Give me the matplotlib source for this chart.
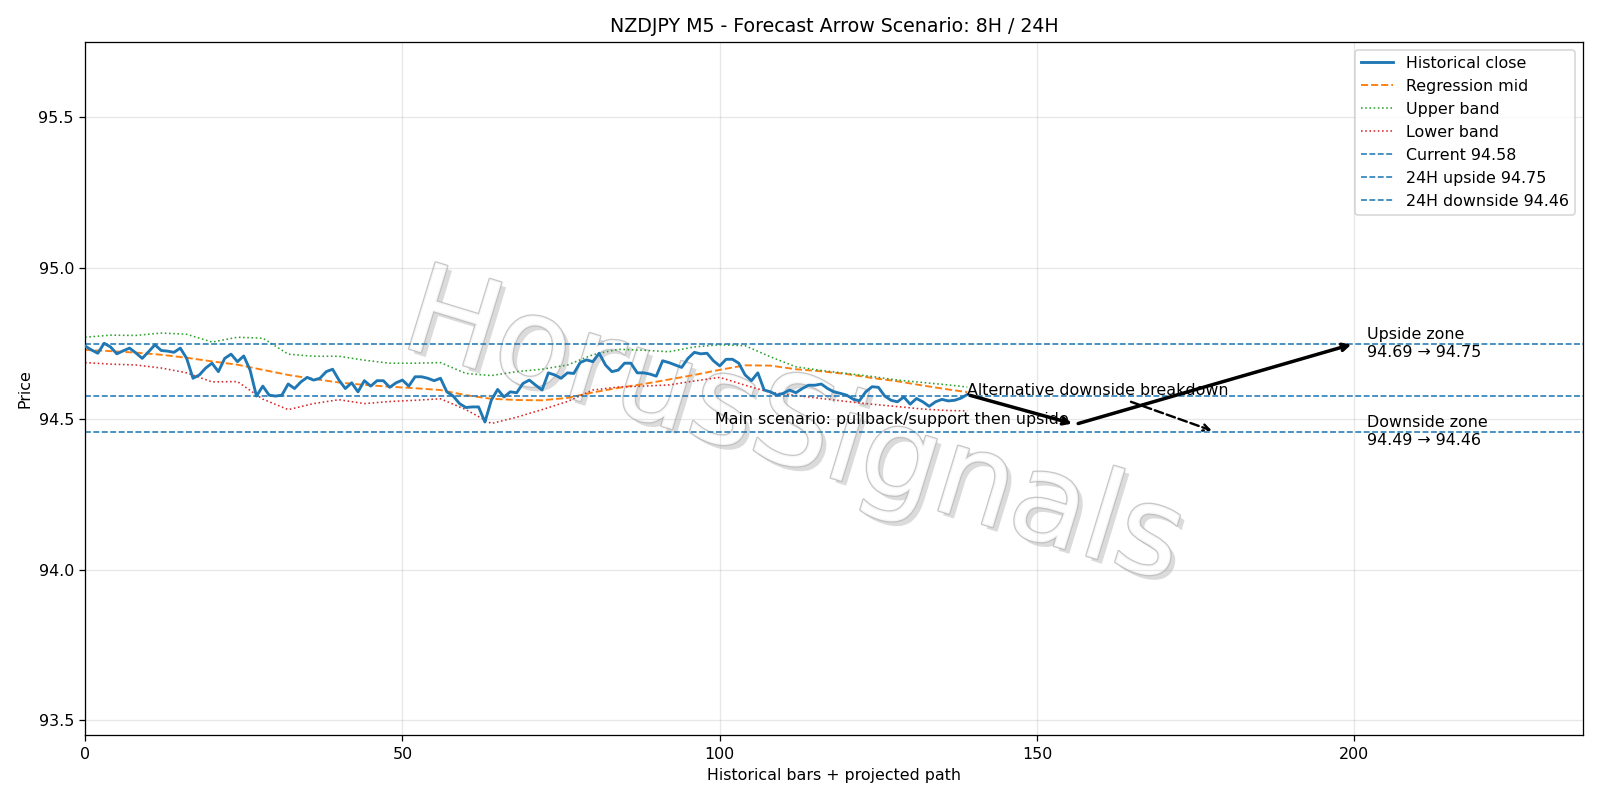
import matplotlib
matplotlib.use("Agg")
import matplotlib.pyplot as plt
import matplotlib.patheffects as pe
import numpy as np

# historical closes, one per bar (bars 0..139)
CLOSE = [
    94.741, 94.728, 94.717, 94.750, 94.738, 94.715, 94.725, 94.734, 94.718, 94.700,
    94.722, 94.745, 94.726, 94.724, 94.720, 94.734, 94.700, 94.634, 94.645, 94.668,
    94.684, 94.656, 94.700, 94.714, 94.689, 94.708, 94.661, 94.575, 94.608, 94.578,
    94.575, 94.578, 94.615, 94.600, 94.622, 94.637, 94.628, 94.634, 94.656, 94.664,
    94.628, 94.600, 94.619, 94.589, 94.626, 94.608, 94.626, 94.626, 94.604, 94.619,
    94.628, 94.608, 94.639, 94.639, 94.634, 94.626, 94.634, 94.589, 94.575, 94.550,
    94.537, 94.539, 94.539, 94.489, 94.561, 94.597, 94.572, 94.589, 94.586, 94.617,
    94.628, 94.611, 94.595, 94.652, 94.645, 94.634, 94.652, 94.650, 94.686, 94.695,
    94.689, 94.717, 94.678, 94.656, 94.661, 94.684, 94.684, 94.652, 94.652, 94.648,
    94.641, 94.692, 94.686, 94.678, 94.670, 94.700, 94.720, 94.715, 94.717, 94.692,
    94.675, 94.697, 94.697, 94.684, 94.645, 94.626, 94.652, 94.595, 94.589, 94.578,
    94.584, 94.595, 94.586, 94.600, 94.611, 94.611, 94.615, 94.600, 94.589, 94.584,
    94.578, 94.565, 94.559, 94.589, 94.606, 94.604, 94.575, 94.561, 94.556, 94.572,
    94.548, 94.567, 94.556, 94.541, 94.556, 94.564, 94.559, 94.561, 94.568, 94.580,
]

# regression channel, read every 4 bars
BAND_X = [0, 4, 8, 12, 16, 20, 24, 28, 32, 36, 40, 44, 48, 52, 56, 60, 64, 68,
          72, 76, 80, 84, 88, 92, 96, 100, 104, 108, 112, 116, 120, 124, 128,
          132, 136, 139]
MID = [94.728, 94.724, 94.719, 94.712, 94.702, 94.690, 94.679, 94.662, 94.645,
       94.632, 94.620, 94.612, 94.606, 94.601, 94.595, 94.578, 94.566, 94.562,
       94.561, 94.569, 94.587, 94.602, 94.615, 94.630, 94.645, 94.662, 94.677,
       94.676, 94.664, 94.657, 94.648, 94.635, 94.624, 94.610, 94.597, 94.588]
UPPER = [94.770, 94.777, 94.776, 94.784, 94.780, 94.754, 94.770, 94.767, 94.714,
         94.707, 94.707, 94.694, 94.684, 94.684, 94.686, 94.650, 94.643, 94.656,
         94.664, 94.678, 94.712, 94.730, 94.727, 94.722, 94.738, 94.745, 94.742,
         94.705, 94.672, 94.660, 94.650, 94.640, 94.628, 94.620, 94.612, 94.605]
LOWER = [94.686, 94.681, 94.678, 94.668, 94.652, 94.622, 94.623, 94.565, 94.530,
         94.550, 94.563, 94.550, 94.557, 94.561, 94.566, 94.530, 94.484, 94.505,
         94.530, 94.557, 94.595, 94.605, 94.608, 94.612, 94.625, 94.637, 94.611,
         94.587, 94.577, 94.567, 94.557, 94.548, 94.540, 94.532, 94.527, 94.526]

CURRENT = 94.576
UP_24H = 94.749
DOWN_24H = 94.457
UP_8H = 94.69
DOWN_8H = 94.49

PULLBACK = (156, 94.481)
UP_TARGET = (200, UP_24H)
DOWN_TARGET = (178, DOWN_24H)
ZONE_X = 202

fig, ax = plt.subplots(figsize=(14, 7), dpi=1600 / 14)

x = np.arange(len(CLOSE))
last_x = x[-1]

ax.plot(x, CLOSE, color="#1f77b4", lw=1.8, label="Historical close", zorder=3)
ax.plot(BAND_X, MID, color="#ff7f0e", lw=1.2, ls="--", label="Regression mid", zorder=2)
ax.plot(BAND_X, UPPER, color="#2ca02c", lw=1.0, ls=":", label="Upper band", zorder=2)
ax.plot(BAND_X, LOWER, color="#d62728", lw=1.0, ls=":", label="Lower band", zorder=2)

ax.axhline(CURRENT, color="#1f77b4", lw=1.0, ls="--", label=f"Current {CURRENT:.2f}")
ax.axhline(UP_24H, color="#1f77b4", lw=1.0, ls="--", label=f"24H upside {UP_24H:.2f}")
ax.axhline(DOWN_24H, color="#1f77b4", lw=1.0, ls="--", label=f"24H downside {DOWN_24H:.2f}")

# main path: pullback, then upside
ax.annotate("", xy=PULLBACK, xytext=(last_x, CLOSE[-1]),
            arrowprops=dict(arrowstyle="->", lw=2.2, color="black"))
ax.annotate("", xy=UP_TARGET, xytext=PULLBACK,
            arrowprops=dict(arrowstyle="->", lw=2.2, color="black"))
ax.text(PULLBACK[0] - 1, PULLBACK[1], "Main scenario: pullback/support then upside",
        ha="right", va="baseline", fontsize=10)

# alternative path
ax.annotate("Alternative downside breakdown", xy=DOWN_TARGET, xytext=(last_x, CLOSE[-1]),
            fontsize=10,
            arrowprops=dict(arrowstyle="->", lw=1.5, ls="--", color="black"))

ax.text(ZONE_X, UP_24H, f"Upside zone\n{UP_8H:.2f} \u2192 {UP_24H:.2f}",
        va="center", fontsize=10)
ax.text(ZONE_X, DOWN_24H, f"Downside zone\n{DOWN_8H:.2f} \u2192 {DOWN_24H:.2f}",
        va="center", fontsize=10)

# watermark, behind the data
ax.text(0.473, 0.44, "HorusSignals", transform=ax.transAxes, fontsize=78, rotation=-17,
        ha="center", va="center", color="white", alpha=0.85, zorder=0.6,
        path_effects=[pe.SimplePatchShadow(offset=(3, -3), shadow_rgbFace="#999999", alpha=0.35),
                      pe.Stroke(linewidth=1.6, foreground="#bdbdbd"),
                      pe.Normal()])

ax.set_xlim(0, 236)
ax.set_ylim(93.45, 95.75)
ax.set_title("NZDJPY M5 - Forecast Arrow Scenario: 8H / 24H")
ax.set_xlabel("Historical bars + projected path")
ax.set_ylabel("Price")
ax.grid(True, alpha=0.3)
ax.legend(loc="upper right")

fig.tight_layout()
fig.savefig("out.png", dpi=1600 / 14)
